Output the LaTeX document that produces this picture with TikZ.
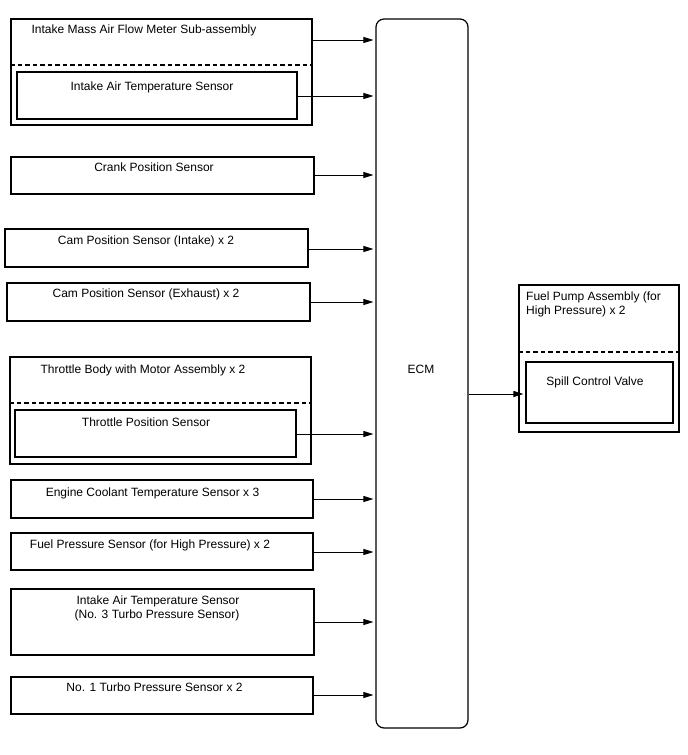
\documentclass[tikz,border=0pt]{standalone}
\usepackage{fontspec}
\setmainfont{Liberation Sans}
\usetikzlibrary{arrows.meta}
\begin{document}
\begin{tikzpicture}[x=1pt,y=-1pt,
  box/.style={draw,line width=1.2pt,inner sep=0pt,rectangle},
  txt/.style={inner sep=0pt,anchor=base,font=\fontsize{12}{14.4}\selectfont},
  ltxt/.style={inner sep=0pt,anchor=base west,font=\fontsize{12}{14.4}\selectfont},
  sep/.style={line width=1.2pt,dash pattern=on 4.5pt off 3pt},
  arr/.style={line width=0.8pt,shorten >=2pt,-{Triangle[length=10pt,width=6pt]}}]
\useasboundingbox (0,0) rectangle (688,755);
% ECM
\node[box,rounded corners=8pt,minimum width=92pt,minimum height=709pt] (ecm) at (422,373.5) {};
\node[txt] (ecmt) at (421,373.3) {ECM};
% Intake mass air flow meter
\node[box,minimum width=301pt,minimum height=106pt] (mafm) at (161.5,72) {};
\draw[sep] (mafm.west |- 0,65) -- (mafm.east |- 0,65);
\node[txt] (mafmt) at (144,33) {Intake Mass Air Flow Meter Sub-assembly};
\node[box,minimum width=280pt,minimum height=47pt] (iat1) at (157,95.5) {};
\node[txt] (iat1t) at (152,90.7) {Intake Air Temperature Sensor};
% Crank
\node[box,minimum width=303pt,minimum height=37pt] (crank) at (162.5,175.5) {};
\node[txt] (crankt) at (154,171.7) {Crank Position Sensor};
% Cam intake
\node[box,minimum width=303pt,minimum height=38pt] (camin) at (156.5,248) {};
\node[txt] (camint) at (146,244) {Cam Position Sensor (Intake) x 2};
% Cam exhaust
\node[box,minimum width=303pt,minimum height=38pt] (camex) at (158.5,302) {};
\node[txt] (camext) at (146,297) {Cam Position Sensor (Exhaust) x 2};
% Throttle body
\node[box,minimum width=301pt,minimum height=107pt] (tb) at (160.5,410.5) {};
\draw[sep] (tb.west |- 0,403) -- (tb.east |- 0,403);
\node[txt] (tbt) at (143,373) {Throttle Body with Motor Assembly x 2};
\node[box,minimum width=281pt,minimum height=47pt] (tps) at (155.5,433.5) {};
\node[txt] (tpst) at (146,426) {Throttle Position Sensor};
% Coolant
\node[box,minimum width=302pt,minimum height=38pt] (cool) at (162,499) {};
\node[txt] (coolt) at (152.5,496) {Engine Coolant Temperature Sensor x 3};
% Fuel pressure
\node[box,minimum width=302pt,minimum height=37pt] (fuelp) at (162,551.5) {};
\node[txt] (fuelpt) at (150,548) {Fuel Pressure Sensor (for High Pressure) x 2};
% IAT No.3
\node[box,minimum width=303pt,minimum height=66pt] (iat3) at (162.5,622) {};
\node[txt] (iat3a) at (158,604) {Intake Air Temperature Sensor};
\node[txt] (iat3b) at (157,618) {(No. 3 Turbo Pressure Sensor)};
% Turbo 1
\node[box,minimum width=302pt,minimum height=37pt] (turbo) at (162,695.5) {};
\node[txt] (turbot) at (154.5,691.7) {No. 1 Turbo Pressure Sensor x 2};
% Fuel pump
\node[box,minimum width=160pt,minimum height=147pt] (pump) at (599,358.5) {};
\draw[sep] (pump.west |- 0,352) -- (pump.east |- 0,352);
\node[ltxt] (pumpa) at (526,300) {Fuel Pump Assembly (for};
\node[ltxt] (pumpb) at (526,314) {High Pressure) x 2};
\node[box,minimum width=147pt,minimum height=61pt] (spill) at (599.5,392.5) {};
\node[txt] (spillt) at (595,385.7) {Spill Control Valve};
% Connectors
\draw[arr] (mafm.east |- 0,40) -- (ecm.west |- 0,40);
\draw[arr] (iat1.east |- 0,96) -- (ecm.west |- 0,96);
\draw[arr] (crank.east |- 0,175) -- (ecm.west |- 0,175);
\draw[arr] (camin.east |- 0,249) -- (ecm.west |- 0,249);
\draw[arr] (camex.east |- 0,302) -- (ecm.west |- 0,302);
\draw[arr] (tps.east |- 0,434) -- (ecm.west |- 0,434);
\draw[arr] (cool.east |- 0,499) -- (ecm.west |- 0,499);
\draw[arr] (fuelp.east |- 0,552) -- (ecm.west |- 0,552);
\draw[arr] (iat3.east |- 0,622) -- (ecm.west |- 0,622);
\draw[arr] (turbo.east |- 0,695) -- (ecm.west |- 0,695);
\draw[arr] (ecm.east |- 0,394) -- (spill.west |- 0,394);
\end{tikzpicture}
\end{document}
